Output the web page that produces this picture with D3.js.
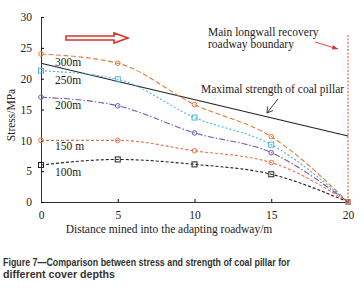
<!DOCTYPE html>
<html lang="en">
<head>
  <meta charset="UTF-8">
  <title>Stress vs strength of coal pillar</title>
  <script src="https://d3js.org/d3.v7.min.js"></script>
  <style>
    body { margin: 0; background: #fff; }
    svg text { font-family: 'Liberation Serif', 'DejaVu Serif', serif; fill: #222; }
    .caption { font-family: 'Liberation Sans', Arial, sans-serif !important; font-weight: 700; font-size: 10.5px; fill: #333; }
  </style>
</head>
<body>
  <svg id="chart" width="364" height="293"></svg>
  <script>
    const distance = [0, 5, 10, 15, 20];
    const depths = ["300m", "250m", "200m", "150 m", "100m"];
    const stress300 = [24.0, 22.5, 15.8, 10.6, 0];
    const stress250 = [21.3, 19.9, 13.7, 9.3, 0];
    const stress200 = [17.0, 15.6, 11.2, 8.0, 0];
    const stress150 = [10.0, 10.0, 8.3, 6.4, 0];
    const stress100 = [6.0, 6.9, 6.1, 4.5, 0];
    const strengthEnds = [22.5, 10.7];
    const yTicks = [0, 5, 10, 15, 20, 25, 30];
    const xTicks = [0, 5, 10, 15, 20];

    const svg = d3.select("#chart");
    const x = d3.scaleLinear().domain([0, 20]).range([41, 348]);
    const y = d3.scaleLinear().domain([0, 30]).range([202, 17]);

    // axes
    svg.append("g").attr("transform", "translate(0,202)")
      .call(d3.axisBottom(x).tickValues(xTicks).tickSize(-3).tickPadding(9))
      .call(g => g.select(".domain").attr("stroke", "#333"))
      .call(g => g.selectAll("text").style("font-size", "11.5px").attr("font-family", "Liberation Serif"));
    svg.append("g").attr("transform", "translate(41,0)")
      .call(d3.axisLeft(y).tickValues(yTicks).tickSize(-3).tickPadding(9))
      .call(g => g.select(".domain").attr("stroke", "#333"))
      .call(g => g.selectAll("text").style("font-size", "11.5px").attr("font-family", "Liberation Serif"));

    // boundary line at 20 m
    svg.append("line")
      .attr("x1", x(20)).attr("x2", x(20)).attr("y1", 35).attr("y2", y(0))
      .attr("stroke", "#e0684a").attr("stroke-width", 1.2).attr("stroke-dasharray", "2,1.5");

    const series = [
      {name: depths[0], vals: stress300, color: "#e07a3c", dash: "5,2.5", marker: "circle"},
      {name: depths[1], vals: stress250, color: "#47b4dc", dash: "2,2", marker: "square"},
      {name: depths[2], vals: stress200, color: "#7556b0", dash: "6,2,1.5,2", marker: "circle"},
      {name: depths[3], vals: stress150, color: "#e8704a", dash: "3,2", marker: "circle"},
      {name: depths[4], vals: stress100, color: "#222", dash: "3,2", marker: "square"}
    ];

    const line = d3.line().x(d => x(d[0])).y(d => y(d[1])).curve(d3.curveMonotoneX);

    // strength line
    svg.append("line")
      .attr("x1", x(0)).attr("y1", y(strengthEnds[0]))
      .attr("x2", x(20)).attr("y2", y(strengthEnds[1]))
      .attr("stroke", "#222").attr("stroke-width", 1.1);

    series.forEach(s => {
      const pts = distance.map((d, i) => [d, s.vals[i]]);
      svg.append("path").datum(pts)
        .attr("fill", "none").attr("stroke", s.color).attr("stroke-width", 1.1)
        .attr("stroke-dasharray", s.dash).attr("d", line);
      pts.slice(0, 4).forEach(p => {
        if (s.marker === "square") {
          svg.append("rect").attr("x", x(p[0]) - 2.5).attr("y", y(p[1]) - 2.5)
            .attr("width", 5).attr("height", 5)
            .attr("fill", "none").attr("stroke", s.color).attr("stroke-width", 1);
        } else {
          svg.append("circle").attr("cx", x(p[0])).attr("cy", y(p[1])).attr("r", 2.3)
            .attr("fill", "none").attr("stroke", s.color).attr("stroke-width", 1);
        }
      });
    });
    svg.append("rect").attr("x", x(20) - 3).attr("y", y(0) - 3).attr("width", 6).attr("height", 6)
      .attr("fill", "#b0705a").attr("opacity", 0.8);

    // depth labels
    const labelY = [62, 80, 105, 146, 172];
    depths.forEach((d, i) => {
      svg.append("text").attr("x", 55).attr("y", labelY[i]).attr("dy", "0.35em")
        .style("font-size", "11.5px").text(d);
    });

    // hollow red arrow
    svg.append("path")
      .attr("d", `M66,36 L114,36 L114,33 L128,38 L114,43 L114,40 L66,40 Z`)
      .attr("fill", "#fff").attr("stroke", "#d8352a").attr("stroke-width", 1.6);

    // annotations
    svg.append("text").attr("x", 208).attr("y", 32).attr("dy", "0.35em").style("font-size", "11.5px")
      .text("Main longwall  recovery");
    svg.append("text").attr("x", 208).attr("y", 44).attr("dy", "0.35em").style("font-size", "11.5px")
      .text("roadway boundary");
    svg.append("line").attr("x1", 315).attr("y1", 42).attr("x2", 338).attr("y2", 49)
      .attr("stroke", "#d8352a").attr("stroke-width", 0.9);
    svg.append("path").attr("d", "M338,49 L333,45 L332,49.5 Z").attr("fill", "#d8352a");

    svg.append("text").attr("x", 201).attr("y", 89).attr("dy", "0.35em").style("font-size", "11.5px")
      .text("Maximal  strength of coal pillar");
    svg.append("line").attr("x1", 278).attr("y1", 99).attr("x2", 267).attr("y2", 113)
      .attr("stroke", "#222").attr("stroke-width", 0.9);
    svg.append("path").attr("d", "M267,113 L267.5,106.5 M267,113 L273,110.5")
      .attr("stroke", "#222").attr("stroke-width", 0.9).attr("fill", "none");

    // axis titles
    svg.append("text").attr("x", 169).attr("y", 229).attr("dy", "0.35em")
      .attr("text-anchor", "middle").style("font-size", "11.5px")
      .text("Distance mined into the adapting roadway/m");
    svg.append("text").attr("transform", "translate(11,115) rotate(-90)")
      .attr("text-anchor", "middle").attr("dy", "0.35em").style("font-size", "11.5px")
      .text("Stress/MPa");

    // caption
    svg.append("text").attr("class", "caption").attr("x", 3).attr("y", 262).attr("dy", "0.35em")
      .attr("textLength", 287).attr("lengthAdjust", "spacingAndGlyphs")
      .text("Figure 7\u2014Comparison between stress and strength of coal pillar for");
    svg.append("text").attr("class", "caption").attr("x", 3).attr("y", 274).attr("dy", "0.35em")
      .attr("textLength", 112).attr("lengthAdjust", "spacingAndGlyphs")
      .text("different cover depths");
  </script>
</body>
</html>
